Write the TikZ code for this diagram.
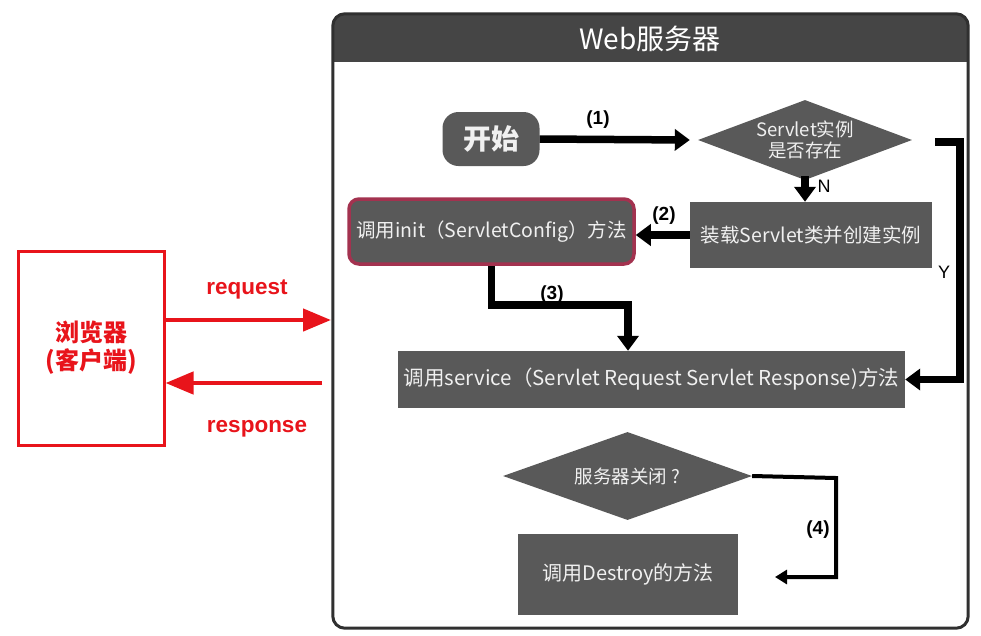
\documentclass[tikz,border=0pt]{standalone}
\usepackage{fontspec}
\setmainfont{Noto Sans CJK SC}
\newfontfamily\lat{Liberation Sans}
\usetikzlibrary{arrows.meta,shapes.geometric}
\definecolor{boxgray}{HTML}{595959}
\definecolor{hdrgray}{HTML}{454545}
\definecolor{framegray}{HTML}{303030}
\definecolor{initred}{HTML}{A3324F}
\definecolor{brred}{HTML}{E8141B}
\tikzset{
  box/.style={fill=boxgray, text=white!94!black, inner sep=0pt, align=center},
  dia/.style={diamond, fill=boxgray, text=white!94!black, inner sep=-3pt, align=center},
  blk/.style={draw=black, line width=7.5pt, -{Triangle[width=21pt,length=15pt]}},
  lbl/.style={font=\lat\bfseries\fontsize{19}{21}\selectfont, text=black},
  lblr/.style={font=\lat\fontsize{18}{20}\selectfont, text=black},
  redarr/.style={draw=brred, line width=4.5pt, -{Triangle[width=22pt,length=28pt]}},
  redlbl/.style={font=\lat\bfseries\fontsize{22.5}{25}\selectfont, text=brred},
}
\begin{document}
\begin{tikzpicture}[x=1pt,y=-1pt]
\useasboundingbox (0,0) rectangle (981,635);
% panel
\node[minimum width=635pt, minimum height=614pt, inner sep=0pt] (panel) at (650.5,321) {};
\begin{scope}
\clip[rounded corners=12pt] (panel.south west) rectangle (panel.north east);
\fill[white] (panel.south west) rectangle (panel.north east);
\fill[hdrgray] (333,14) rectangle (968,62);
\end{scope}
\draw[framegray, line width=3pt, rounded corners=12pt] (panel.south west) rectangle (panel.north east);
\node[text=white, font=\fontsize{28}{32}\selectfont] (title) at (650,39) {Web服务器};

% nodes
\node[box, rounded corners=16pt, minimum width=97pt, minimum height=54pt, font=\bfseries\fontsize{28}{32}\selectfont] (start) at (491,139) {开始};
\node[dia, aspect=2.675, minimum width=214pt, minimum height=80pt, font=\fontsize{18.5}{21}\selectfont] (d1) at (805,140) {Servlet实例\\是否存在};
\node[box, minimum width=242pt, minimum height=66pt, font=\fontsize{19.5}{22}\selectfont] (load) at (811,235) {装载Servlet类并创建实例};
\node[box, draw=initred, line width=3.5pt, rounded corners=10pt, minimum width=285pt, minimum height=65pt, font=\fontsize{19.5}{22}\selectfont] (init) at (491.5,231.5) {调用init（ServletConfig）方法};
\node[box, minimum width=507pt, minimum height=57pt, font=\fontsize{20.5}{24}\selectfont] (service) at (651.5,379.5) {调用service（Servlet Request Servlet Response)方法};
\node[dia, aspect=2.83, minimum width=249pt, minimum height=88pt, font=\fontsize{18.5}{21}\selectfont] (d2) at (627.5,476) {服务器关闭 ?};
\node[box, minimum width=220pt, minimum height=81pt, font=\fontsize{20}{24}\selectfont] (destroy) at (628,574.5) {调用Destroy的方法};

% browser
\node[draw=brred, line width=3pt, minimum width=146pt, minimum height=194pt, inner sep=0pt, align=center, text=brred, font=\bfseries\fontsize{24}{28}\selectfont] (browser) at (91,348) {浏览器\\(客户端)};

% connectors
\draw[blk] (start.east) -- ([xshift=-8pt]d1.west);
\node[lbl] (l1) at (598,120) {(1)};
\draw[blk] ([yshift=4pt]d1.south) -- (d1.south |- load.north);
\node[lblr] (ln) at (824,186) {N};
\draw[blk] (load.west) -- (load.west -| init.east);
\node[lbl] (l2) at (664,216) {(2)};
\coordinate (c3) at (628,305);
\draw[blk, line join=miter] (init.south) |- (c3) -- (c3 |- service.north);
\node[lbl] (l3) at (552,295) {(3)};
\coordinate (y1) at (935,142);
\coordinate (y2) at (960,142);
\draw[blk, line join=miter] (y1) -- (y2) |- (service.east);
\node[lblr] (ly) at (944,272) {Y};
\coordinate (c4) at (836,478);
\coordinate (e4) at (775,577);
\draw[line width=4pt, line join=miter, -{Triangle[width=14pt,length=12pt]}] (d2.east) -- (c4) |- (e4);
\node[lbl] (l4) at (818,530) {(4)};

% request / response
\coordinate (rq) at (331,320);
\coordinate (rs) at (322,383);
\draw[redarr] (browser.east |- rq) -- (rq);
\draw[redarr] (rs) -- (browser.east |- rs);
\node[redlbl] (lreq) at (247,289) {request};
\node[redlbl] (lres) at (257,429) {response};
\end{tikzpicture}
\end{document}
